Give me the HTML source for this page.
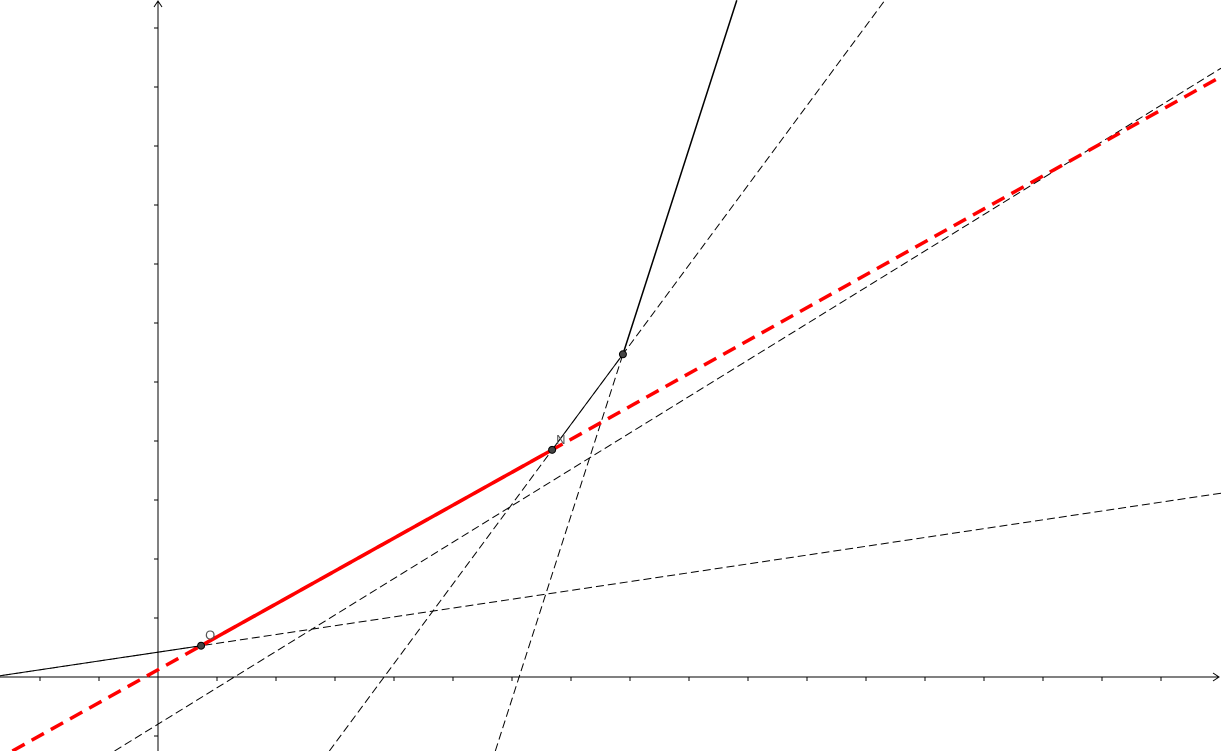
<!DOCTYPE html>
<html><head><meta charset="utf-8"><style>
html,body{margin:0;padding:0;background:#fff;width:1221px;height:751px;overflow:hidden;}
svg{display:block;overflow:hidden;}
text{font-family:"Liberation Sans",sans-serif;}
</style></head><body>
<svg id="c" width="1221" height="751" viewBox="0 0 1221 751"></svg>
<script>
const ox=158, oy=677, u=59;
const xTicks=[-2,-1,1,2,3,4,5,6,7,8,9,10,11,12,13,14,15,16,17];
const yTicks=[-1,1,2,3,4,5,6,7,8,9,10,11];
const ptNames=["O","N","P"];
const ptX=[0.73,6.68,7.88];
const ptY=[0.53,3.85,5.47];
const farA=[-2.68,0.02];
const farB=[9.81,11.47];
const farC=[12.32,11.47];
const farD=[-0.73,-1.25];
const farE=[18.02,10.32];
const W=1221,H=751;
const X=v=>ox+v*u, Y=v=>oy-v*u;
const svg=document.getElementById('c');
const NS='http://www.w3.org/2000/svg';
function add(tag,attrs,name){const e=document.createElementNS(NS,tag);for(const k in attrs)e.setAttribute(k,attrs[k]);


svg.appendChild(e);return e;}
// clip a pixel-space segment to the frame (Liang-Barsky)
function clip(x1,y1,x2,y2){
  let t0=0,t1=1;const dx=x2-x1,dy=y2-y1;
  const p=[-dx,dx,-dy,dy],q=[x1,W-x1,y1,H-y1];
  for(let i=0;i<4;i++){
    if(p[i]===0){if(q[i]<0)return null;}
    else{const r=q[i]/p[i];if(p[i]<0){if(r>t1)return null;if(r>t0)t0=r;}else{if(r<t0)return null;if(r<t1)t1=r;}}
  }
  return {x1:x1+t0*dx,y1:y1+t0*dy,x2:x1+t1*dx,y2:y1+t1*dy};
}
function seg(x1,y1,x2,y2,name,style){
  const c=clip(x1,y1,x2,y2);if(!c)return;
  return add('line',Object.assign(c,style),name);
}
function lineThrough(p,q,name,style){
  const dx=q[0]-p[0], dy=q[1]-p[1];
  const t0=-40,t1=40;
  return seg(X(p[0]+dx*t0),Y(p[1]+dy*t0),X(p[0]+dx*t1),Y(p[1]+dy*t1),name,style);
}
const O=[ptX[0],ptY[0]],N=[ptX[1],ptY[1]],P=[ptX[2],ptY[2]];
add('line',{x1:0,y1:oy,x2:1219,y2:oy,stroke:'#000','stroke-width':1},'x-axis');
add('path',{d:`M1213 ${oy-4} L1219 ${oy} L1213 ${oy+4}`,fill:'none',stroke:'#000'},'x-axis-arrow');
add('line',{x1:ox,y1:751,x2:ox,y2:1,stroke:'#000','stroke-width':1},'y-axis');
add('path',{d:`M${ox-4} 7 L${ox} 1 L${ox+4} 7`,fill:'none',stroke:'#000'},'y-axis-arrow');
xTicks.forEach(t=>add('line',{x1:X(t),y1:oy,x2:X(t),y2:oy+4,stroke:'#000'},'x-tick'));
yTicks.forEach(t=>add('line',{x1:ox-4,y1:Y(t),x2:ox,y2:Y(t),stroke:'#000'},'y-tick'));
const dash={stroke:'#000','stroke-width':1,'stroke-dasharray':'8,4',fill:'none'};
lineThrough(O,[farA[0],farA[1]],'dashed-line-o',dash);
lineThrough(P,farC,'dashed-line-p',dash);
lineThrough(P,farB,'dashed-line-steep',dash);
lineThrough(farD,farE,'dashed-line-long',dash);
lineThrough(O,N,'red-dashed-line',{stroke:'#f00','stroke-width':3.5,'stroke-dasharray':'14,8'});
seg(X(farA[0]),Y(farA[1]),X(O[0]),Y(O[1]),'segment-left',{stroke:'#000','stroke-width':1});
seg(X(O[0]),Y(O[1]),X(N[0]),Y(N[1]),'segment-on',{stroke:'#f00','stroke-width':3.5});
seg(X(N[0]),Y(N[1]),X(P[0]),Y(P[1]),'segment-np',{stroke:'#000','stroke-width':1});
seg(X(P[0]),Y(P[1]),X(farB[0]),Y(farB[1]),'segment-steep',{stroke:'#000','stroke-width':1.5});
ptNames.forEach((n,i)=>{
  add('circle',{cx:X(ptX[i]),cy:Y(ptY[i]),r:3.5,fill:'#444',stroke:'#000','stroke-width':1},'point-'+n.toLowerCase());
  if(n!=='P'){const t=add('text',{x:X(ptX[i])+4,y:Y(ptY[i])-6,'font-size':13,fill:'#555'},'label-'+n.toLowerCase());t.textContent=n;}
});
</script>
</body></html>
